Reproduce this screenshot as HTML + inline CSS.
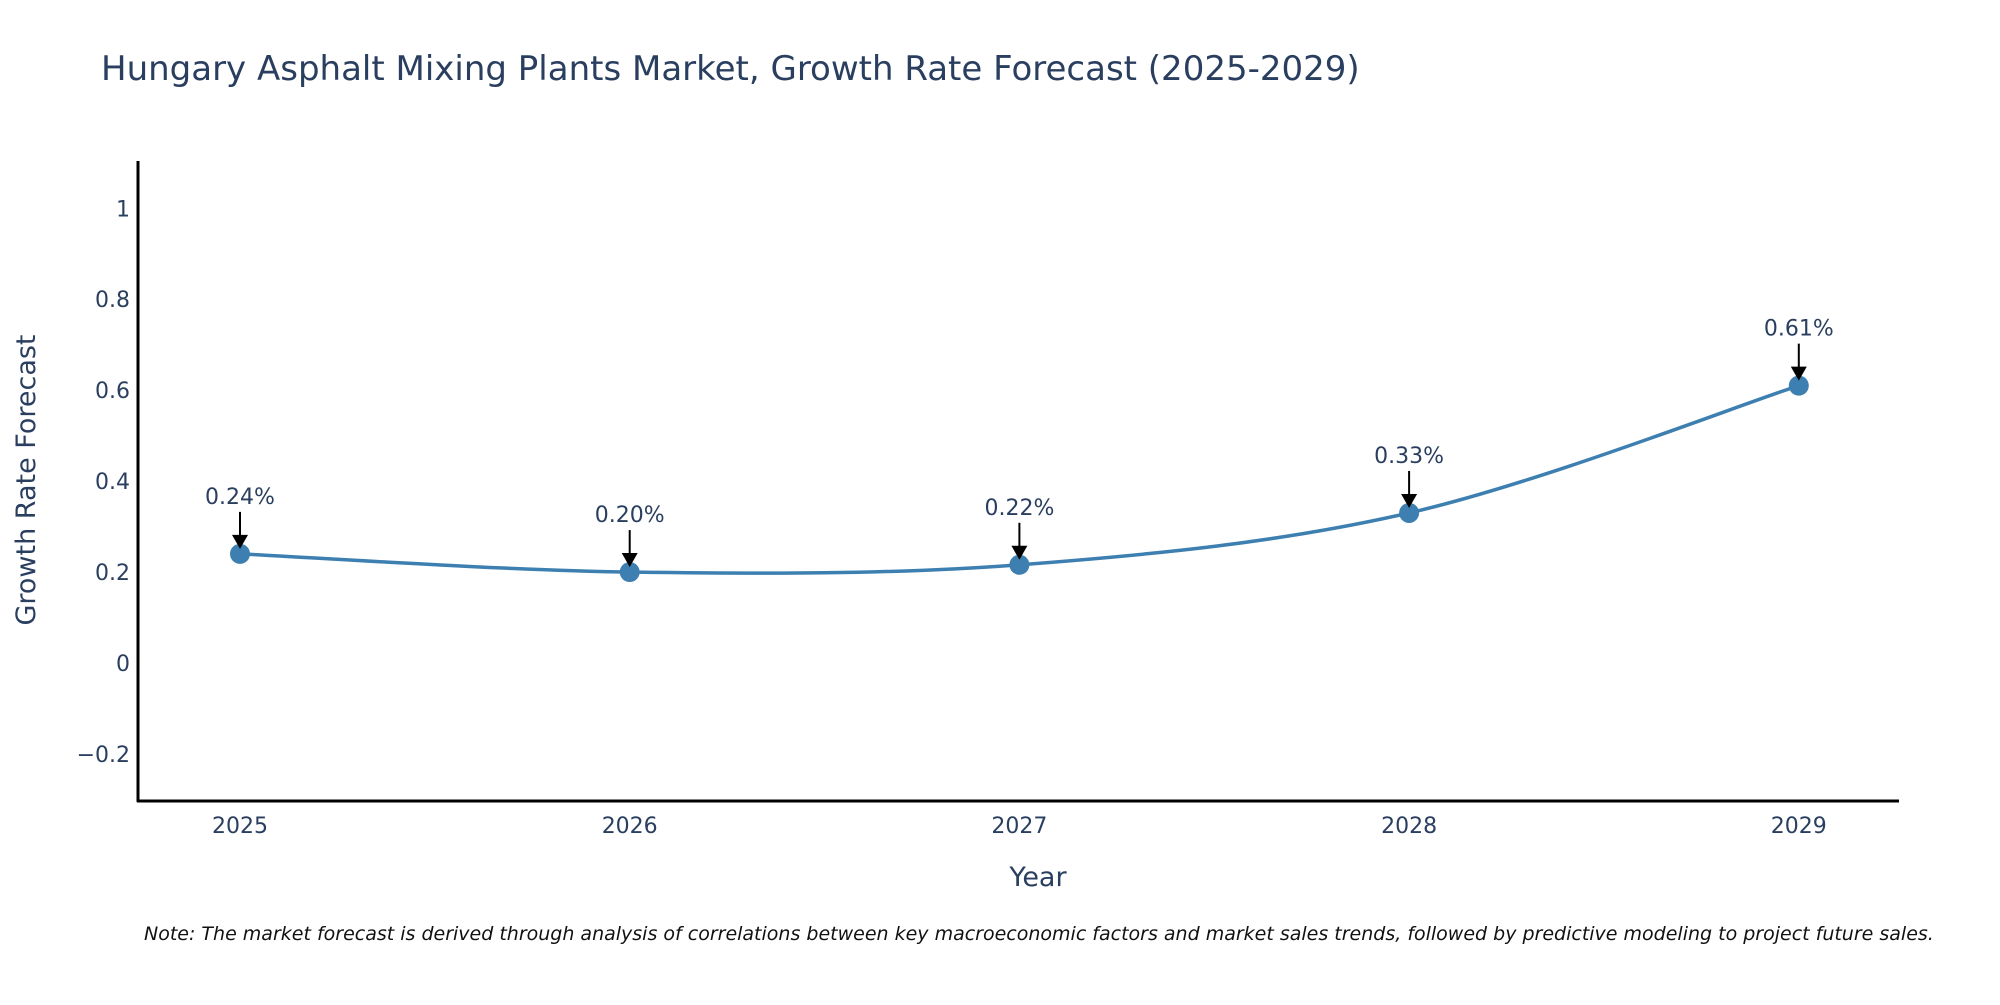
<!DOCTYPE html>
<html><head><meta charset="utf-8"><style>
body{margin:0;background:#fff;width:2000px;height:1000px;overflow:hidden}
svg{font-family:"DejaVu Sans","Liberation Sans",sans-serif}
</style></head><body>
<svg id="chart" width="2000" height="1000" viewBox="0 0 2000 1000" xmlns="http://www.w3.org/2000/svg">
<text x="101" y="80" font-size="34" fill="#2a3f5f">Hungary Asphalt Mixing Plants Market, Growth Rate Forecast (2025-2029)</text>
<g id="axes"></g>
<g id="series"></g>
<g id="annots"></g>
<text x="1038" y="886" font-size="27" fill="#2a3f5f" text-anchor="middle">Year</text>
<text transform="translate(35,480) rotate(-90)" font-size="27" fill="#2a3f5f" text-anchor="middle">Growth Rate Forecast</text>
<text x="144" y="940" font-size="19" font-style="italic" fill="#111">Note: The market forecast is derived through analysis of correlations between key macroeconomic factors and market sales trends, followed by predictive modeling to project future sales.</text>
</svg>
<script>
const years = [2025, 2026, 2027, 2028, 2029];
const values = [0.24, 0.20, 0.216, 0.33, 0.61];
const labels = ["0.24%", "0.20%", "0.22%", "0.33%", "0.61%"];
const yTicks = [-0.2, 0, 0.2, 0.4, 0.6, 0.8, 1];
const yTickLabels = ["\u22120.2", "0", "0.2", "0.4", "0.6", "0.8", "1"];

const NS = "http://www.w3.org/2000/svg";
const xScale = y => 240 + (y - 2025) * 389.7;
const yScale = v => 663 - v * 454.7;
function mk(tag, attrs, parent, txt){const e=document.createElementNS(NS,tag);for(const k in attrs)e.setAttribute(k,attrs[k]);if(txt!==undefined)e.textContent=txt;parent.appendChild(e);return e;}
const axes=document.getElementById('axes'), series=document.getElementById('series'), ann=document.getElementById('annots');

let a=mk('line',{x1:138,y1:161,x2:138,y2:802,stroke:'#000','stroke-width':3},axes);


a=mk('line',{x1:137,y1:801,x2:1899,y2:801,stroke:'#000','stroke-width':3},axes);


yTicks.forEach((t,i)=>{
  const e=mk('text',{x:130,y:yScale(t)+8,'font-size':22,fill:'#2a3f5f','text-anchor':'end'},axes,yTickLabels[i]);
  
  
});
years.forEach(y=>{
  const e=mk('text',{x:xScale(y),y:833,'font-size':22,fill:'#2a3f5f','text-anchor':'middle'},axes,String(y));
  
  
});
const pts=years.map((y,i)=>[xScale(y),yScale(values[i])]);
let d=`M${pts[0][0]},${pts[0][1]}`;
const s=0.5/3*2;
for(let i=0;i<pts.length-1;i++){
  const p0=pts[Math.max(0,i-1)],p1=pts[i],p2=pts[i+1],p3=pts[Math.min(pts.length-1,i+2)];
  const c1=[p1[0]+(p2[0]-p0[0])*s/2,p1[1]+(p2[1]-p0[1])*s/2];
  const c2=[p2[0]-(p3[0]-p1[0])*s/2,p2[1]-(p3[1]-p1[1])*s/2];
  d+=` C${c1[0]},${c1[1]} ${c2[0]},${c2[1]} ${p2[0]},${p2[1]}`;
}
const line=mk('path',{d:d,fill:'none',stroke:'#3d7fb0','stroke-width':3.5},series);


pts.forEach(p=>{
  const c=mk('circle',{cx:p[0],cy:p[1],r:10,fill:'#3d7fb0'},series);
  
  
});
pts.forEach((p,i)=>{
  const l=mk('line',{x1:p[0],y1:p[1]-42,x2:p[0],y2:p[1]-18,stroke:'#000','stroke-width':2},ann);
  
  
  const h=mk('path',{d:`M${p[0]-8},${p[1]-19} L${p[0]+8},${p[1]-19} L${p[0]},${p[1]-5} Z`,fill:'#000'},ann);
  
  
  const t=mk('text',{x:p[0],y:p[1]-50,'font-size':22,fill:'#2a3f5f','text-anchor':'middle'},ann,labels[i]);
  
  
});
</script>
</body></html>
